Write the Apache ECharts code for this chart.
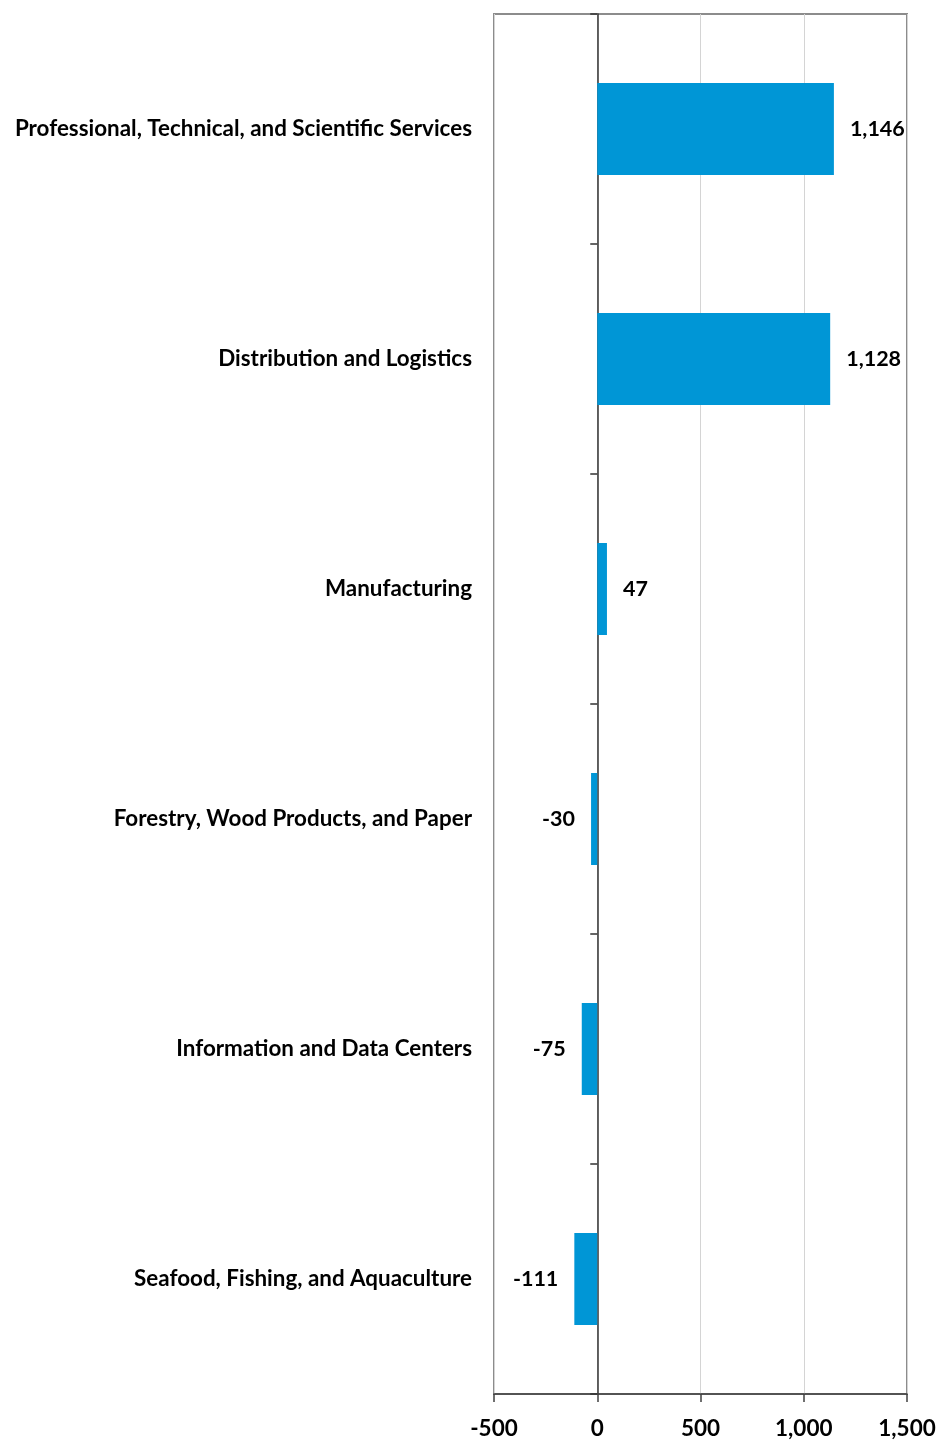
<!DOCTYPE html>
<html><head><meta charset="utf-8">
<script src="https://cdn.jsdelivr.net/npm/echarts@6/dist/echarts.min.js"></script>
<style>html,body{margin:0;padding:0;background:#fff}#c{width:948px;height:1448px}</style>
</head><body><div id="c"></div>
<script>
const categories = [
  'Professional, Technical, and Scientific Services',
  'Distribution and Logistics',
  'Manufacturing',
  'Forestry, Wood Products, and Paper',
  'Information and Data Centers',
  'Seafood, Fishing, and Aquaculture'
];
const values = [1146, 1128, 47, -30, -75, -111];
const xMin = -500, xMax = 1500, xStep = 500;

const FONT = 'Lato';
const chart = echarts.init(document.getElementById('c'), null, {renderer: 'canvas'});
const fmt = v => v.toLocaleString('en-US');
chart.setOption({
  animation: false,
  backgroundColor: '#fff',
  grid: {left: 494, right: 41, top: 14, bottom: 54, show: true, borderColor: '#8c8c8c', borderWidth: 2, backgroundColor: 'transparent'},
  xAxis: {
    type: 'value', min: xMin, max: xMax, interval: xStep,
    axisLine: {show: true, onZero: false, lineStyle: {color: '#404040', width: 1.5}},
    axisTick: {show: true, length: 8, lineStyle: {color: '#404040', width: 1.5}},
    splitLine: {show: true, lineStyle: {color: '#d4d4d4', width: 1}},
    axisLabel: {formatter: v => fmt(v), color: '#000', fontFamily: FONT, fontWeight: 'bold', fontSize: 22.5, margin: 23}
  },
  yAxis: [
    {
      type: 'category', data: categories, inverse: true, position: 'left',
      axisLine: {show: false, onZero: false}, axisTick: {show: false},
      axisLabel: {color: '#000', fontFamily: FONT, fontWeight: 'bold', fontSize: 22.4, margin: 22}
    },
    {
      type: 'category', data: categories, inverse: true, position: 'left',
      axisLine: {show: true, onZero: true, onZeroAxisIndex: 0, lineStyle: {color: '#333', width: 1.5}},
      axisTick: {show: true, length: 7, lineStyle: {color: '#333', width: 1.5}},
      axisLabel: {show: false}
    }
  ],
  series: [{
    type: 'bar', yAxisIndex: 0, barWidth: '40%',
    itemStyle: {color: '#0096d6'},
    data: values.map(v => ({value: v, label: {position: v >= 0 ? 'right' : 'left'}})),
    label: {show: true, distance: 16, formatter: p => fmt(p.value), color: '#000', fontFamily: FONT, fontWeight: 'bold', fontSize: 21.5}
  }]
});
</script></body></html>
